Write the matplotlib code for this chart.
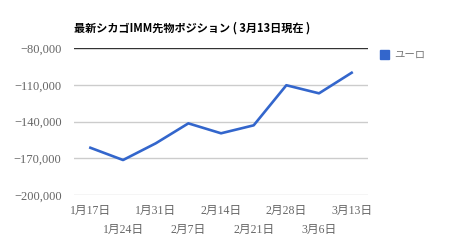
import matplotlib
matplotlib.use("Agg")
import matplotlib.pyplot as plt
from matplotlib.patches import Rectangle

title = "最新シカゴIMM先物ポジション ( 3月13日現在 )"
dates = ["1月17日", "1月24日", "1月31日", "2月7日", "2月14日",
         "2月21日", "2月28日", "3月6日", "3月13日"]
euro = [-161400, -171400, -157800, -141500, -149600,
        -143100, -110400, -117000, -100200]
yticks = [-200000, -170000, -140000, -110000, -80000]
series_name = "ユーロ"

BLUE = "#3366cc"
GRAY = "#666666"
TICKFONT = ["Liberation Serif", "Noto Sans CJK JP"]

fig = plt.figure(figsize=(4.6, 2.46), dpi=100)
ax = fig.add_axes([0.161, 0.207, 0.639, 0.598])

x = list(range(len(dates)))
ax.plot(x, euro, color=BLUE, lw=1.9, solid_joinstyle="round")

ax.set_xlim(-0.5, len(dates) - 0.5)
ax.set_ylim(yticks[0], yticks[-1])
ax.set_yticks(yticks)
ax.set_yticklabels([f"\u2212{abs(v):,}" for v in yticks],
                   family=TICKFONT, fontsize=9, color=GRAY)
for v in yticks:
    ax.axhline(v, color="#333333" if v == yticks[-1] else "#cccccc",
               lw=1.0, zorder=0)

# staggered date labels: even ones on the first row, odd ones below
ax.set_xticks(x[0::2])
ax.set_xticklabels(dates[0::2], family=TICKFONT, fontsize=8.5, color=GRAY)
ax.set_xticks(x[1::2], minor=True)
ax.set_xticklabels(dates[1::2], minor=True, family=TICKFONT, fontsize=8.5, color=GRAY)
ax.tick_params(axis="x", which="major", length=0, pad=7)
ax.tick_params(axis="x", which="minor", length=0, pad=21)
ax.tick_params(axis="y", length=0, pad=9)
for s in ax.spines.values():
    s.set_visible(False)

fig.text(0.161, 0.888, title, family=["Noto Sans CJK JP", "DejaVu Sans"],
         fontsize=8, weight="bold", color="#000000", va="center")

# legend
fig.patches.append(Rectangle((380 / 460, 1 - 59 / 246), 9 / 460, 9 / 246,
                             transform=fig.transFigure, color=BLUE))
fig.text(394 / 460, 1 - 54.5 / 246, series_name, family=["Noto Sans CJK JP"],
         fontsize=7.5, color="#777777", va="center")

fig.savefig("out.png", dpi=100)
